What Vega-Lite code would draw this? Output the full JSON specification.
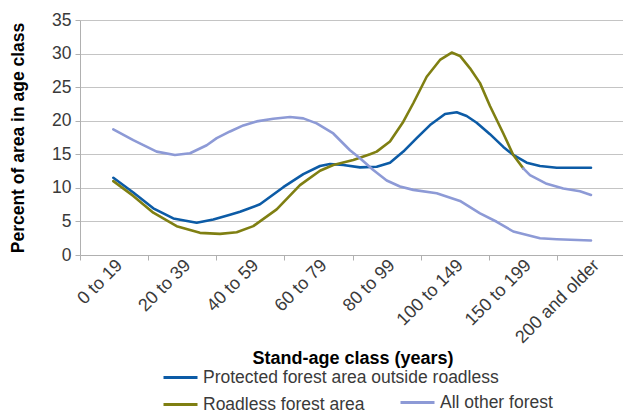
{
  "$schema": "https://vega.github.io/schema/vega-lite/v6.json",
  "autosize": "none",
  "width": 545,
  "height": 235,
  "padding": {"left": 80, "top": 20, "right": 0, "bottom": 158},
  "background": "white",
  "config": {
    "font": "Liberation Sans",
    "view": {"stroke": null},
    "axis": {"labelFont": "Liberation Sans", "titleFont": "Liberation Sans"},
    "legend": {"labelFont": "Liberation Sans"}
  },
  "data": {
    "values": [
      {"line": "P", "key": "Protected forest area outside roadless", "x": 0.489, "y": 11.5},
      {"line": "P", "key": "Protected forest area outside roadless", "x": 0.782, "y": 9.3},
      {"line": "P", "key": "Protected forest area outside roadless", "x": 1.076, "y": 6.95},
      {"line": "P", "key": "Protected forest area outside roadless", "x": 1.370, "y": 5.45},
      {"line": "P", "key": "Protected forest area outside roadless", "x": 1.713, "y": 4.8},
      {"line": "P", "key": "Protected forest area outside roadless", "x": 1.957, "y": 5.3},
      {"line": "P", "key": "Protected forest area outside roadless", "x": 2.202, "y": 6.0},
      {"line": "P", "key": "Protected forest area outside roadless", "x": 2.349, "y": 6.45},
      {"line": "P", "key": "Protected forest area outside roadless", "x": 2.642, "y": 7.55},
      {"line": "P", "key": "Protected forest area outside roadless", "x": 2.984, "y": 10.1},
      {"line": "P", "key": "Protected forest area outside roadless", "x": 3.278, "y": 12.05},
      {"line": "P", "key": "Protected forest area outside roadless", "x": 3.523, "y": 13.25},
      {"line": "P", "key": "Protected forest area outside roadless", "x": 3.670, "y": 13.55},
      {"line": "P", "key": "Protected forest area outside roadless", "x": 3.865, "y": 13.4},
      {"line": "P", "key": "Protected forest area outside roadless", "x": 4.110, "y": 13.05},
      {"line": "P", "key": "Protected forest area outside roadless", "x": 4.355, "y": 13.15},
      {"line": "P", "key": "Protected forest area outside roadless", "x": 4.550, "y": 13.75},
      {"line": "P", "key": "Protected forest area outside roadless", "x": 4.746, "y": 15.4},
      {"line": "P", "key": "Protected forest area outside roadless", "x": 4.942, "y": 17.4},
      {"line": "P", "key": "Protected forest area outside roadless", "x": 5.138, "y": 19.35},
      {"line": "P", "key": "Protected forest area outside roadless", "x": 5.358, "y": 21.0},
      {"line": "P", "key": "Protected forest area outside roadless", "x": 5.530, "y": 21.25},
      {"line": "P", "key": "Protected forest area outside roadless", "x": 5.676, "y": 20.7},
      {"line": "P", "key": "Protected forest area outside roadless", "x": 5.823, "y": 19.7},
      {"line": "P", "key": "Protected forest area outside roadless", "x": 6.018, "y": 18.0},
      {"line": "P", "key": "Protected forest area outside roadless", "x": 6.214, "y": 16.1},
      {"line": "P", "key": "Protected forest area outside roadless", "x": 6.360, "y": 14.9},
      {"line": "P", "key": "Protected forest area outside roadless", "x": 6.557, "y": 13.75},
      {"line": "P", "key": "Protected forest area outside roadless", "x": 6.752, "y": 13.25},
      {"line": "P", "key": "Protected forest area outside roadless", "x": 6.998, "y": 13.0},
      {"line": "P", "key": "Protected forest area outside roadless", "x": 7.501, "y": 13.0},

      {"line": "R", "key": "Roadless forest area", "x": 0.489, "y": 11.0},
      {"line": "R", "key": "Roadless forest area", "x": 0.782, "y": 8.8},
      {"line": "R", "key": "Roadless forest area", "x": 1.076, "y": 6.3},
      {"line": "R", "key": "Roadless forest area", "x": 1.419, "y": 4.3},
      {"line": "R", "key": "Roadless forest area", "x": 1.761, "y": 3.3},
      {"line": "R", "key": "Roadless forest area", "x": 2.055, "y": 3.15},
      {"line": "R", "key": "Roadless forest area", "x": 2.300, "y": 3.4},
      {"line": "R", "key": "Roadless forest area", "x": 2.544, "y": 4.3},
      {"line": "R", "key": "Roadless forest area", "x": 2.887, "y": 6.8},
      {"line": "R", "key": "Roadless forest area", "x": 3.229, "y": 10.4},
      {"line": "R", "key": "Roadless forest area", "x": 3.523, "y": 12.55},
      {"line": "R", "key": "Roadless forest area", "x": 3.718, "y": 13.4},
      {"line": "R", "key": "Roadless forest area", "x": 4.012, "y": 14.15},
      {"line": "R", "key": "Roadless forest area", "x": 4.257, "y": 15.0},
      {"line": "R", "key": "Roadless forest area", "x": 4.355, "y": 15.4},
      {"line": "R", "key": "Roadless forest area", "x": 4.550, "y": 16.9},
      {"line": "R", "key": "Roadless forest area", "x": 4.746, "y": 19.85},
      {"line": "R", "key": "Roadless forest area", "x": 4.892, "y": 22.6},
      {"line": "R", "key": "Roadless forest area", "x": 5.089, "y": 26.55},
      {"line": "R", "key": "Roadless forest area", "x": 5.284, "y": 29.05},
      {"line": "R", "key": "Roadless forest area", "x": 5.456, "y": 30.15},
      {"line": "R", "key": "Roadless forest area", "x": 5.578, "y": 29.65},
      {"line": "R", "key": "Roadless forest area", "x": 5.725, "y": 27.8},
      {"line": "R", "key": "Roadless forest area", "x": 5.872, "y": 25.6},
      {"line": "R", "key": "Roadless forest area", "x": 6.018, "y": 22.2},
      {"line": "R", "key": "Roadless forest area", "x": 6.214, "y": 18.1},
      {"line": "R", "key": "Roadless forest area", "x": 6.360, "y": 14.9},
      {"line": "R", "key": "Roadless forest area", "x": 6.507, "y": 12.9},

      {"line": "RT", "key": "All other forest", "x": 6.507, "y": 12.9},
      {"line": "RT", "key": "All other forest", "x": 6.605, "y": 11.9},
      {"line": "RT", "key": "All other forest", "x": 6.851, "y": 10.6},
      {"line": "RT", "key": "All other forest", "x": 7.094, "y": 9.9},
      {"line": "RT", "key": "All other forest", "x": 7.339, "y": 9.5},
      {"line": "RT", "key": "All other forest", "x": 7.501, "y": 8.95},

      {"line": "O", "key": "All other forest", "x": 0.489, "y": 18.7},
      {"line": "O", "key": "All other forest", "x": 0.782, "y": 17.1},
      {"line": "O", "key": "All other forest", "x": 1.125, "y": 15.4},
      {"line": "O", "key": "All other forest", "x": 1.394, "y": 14.9},
      {"line": "O", "key": "All other forest", "x": 1.615, "y": 15.15},
      {"line": "O", "key": "All other forest", "x": 1.860, "y": 16.35},
      {"line": "O", "key": "All other forest", "x": 2.007, "y": 17.4},
      {"line": "O", "key": "All other forest", "x": 2.202, "y": 18.4},
      {"line": "O", "key": "All other forest", "x": 2.397, "y": 19.3},
      {"line": "O", "key": "All other forest", "x": 2.594, "y": 19.9},
      {"line": "O", "key": "All other forest", "x": 2.837, "y": 20.3},
      {"line": "O", "key": "All other forest", "x": 3.083, "y": 20.55},
      {"line": "O", "key": "All other forest", "x": 3.278, "y": 20.35},
      {"line": "O", "key": "All other forest", "x": 3.474, "y": 19.6},
      {"line": "O", "key": "All other forest", "x": 3.718, "y": 18.1},
      {"line": "O", "key": "All other forest", "x": 3.963, "y": 15.6},
      {"line": "O", "key": "All other forest", "x": 4.110, "y": 14.4},
      {"line": "O", "key": "All other forest", "x": 4.305, "y": 12.65},
      {"line": "O", "key": "All other forest", "x": 4.502, "y": 11.1},
      {"line": "O", "key": "All other forest", "x": 4.697, "y": 10.2},
      {"line": "O", "key": "All other forest", "x": 4.892, "y": 9.7},
      {"line": "O", "key": "All other forest", "x": 5.236, "y": 9.2},
      {"line": "O", "key": "All other forest", "x": 5.578, "y": 8.05},
      {"line": "O", "key": "All other forest", "x": 5.872, "y": 6.2},
      {"line": "O", "key": "All other forest", "x": 6.117, "y": 4.95},
      {"line": "O", "key": "All other forest", "x": 6.360, "y": 3.5},
      {"line": "O", "key": "All other forest", "x": 6.752, "y": 2.5},
      {"line": "O", "key": "All other forest", "x": 6.998, "y": 2.35},
      {"line": "O", "key": "All other forest", "x": 7.501, "y": 2.15}
    ]
  },
  "encoding": {
    "x": {
      "field": "x",
      "type": "quantitative",
      "scale": {"domain": [0, 8], "nice": false, "zero": false},
      "axis": {
        "title": "Stand-age class (years)",
        "titleFontSize": 18,
        "titleFontWeight": "bold",
        "titleColor": "#000000",
        "titlePadding": 3,
        "values": [0, 1, 2, 3, 4, 5, 6, 7, 8],
        "labelExpr": "datum.value < 8 ? ['0 to 19','20 to 39','40 to 59','60 to 79','80 to 99','100 to 149','150 to 199','200 and older'][datum.value] : ''",
        "labelOffset": 33,
        "labelAngle": -45,
        "labelFontSize": 18,
        "labelColor": "#3a3a3a",
        "labelPadding": -4,
        "labelOverlap": false,
        "labelFlush": false,
        "labelBound": false,
        "grid": false,
        "domainColor": "#b0b0b0",
        "tickColor": "#b0b0b0",
        "tickSize": 5
      }
    },
    "y": {
      "field": "y",
      "type": "quantitative",
      "scale": {"domain": [0, 35], "nice": false},
      "axis": {
        "title": "Percent of area in age class",
        "titleFontSize": 17.5,
        "titleFontWeight": "bold",
        "titleColor": "#000000",
        "titlePadding": 24,
        "values": [0, 5, 10, 15, 20, 25, 30, 35],
        "labelFontSize": 17.5,
        "labelColor": "#3a3a3a",
        "labelPadding": 4,
        "grid": true,
        "gridColor": "#c4c4c4",
        "domainColor": "#b0b0b0",
        "tickColor": "#b0b0b0",
        "tickSize": 5
      }
    }
  },
  "layer": [
    {
      "transform": [{"filter": "datum.key != 'All other forest'"}],
      "mark": {"type": "line", "strokeWidth": 2.6, "strokeJoin": "round", "strokeCap": "round"},
      "encoding": {
        "color": {
          "field": "key",
          "type": "nominal",
          "scale": {
            "domain": ["Protected forest area outside roadless", "Roadless forest area"],
            "range": ["#0c5ba6", "#7f7f12"]
          },
          "legend": {
            "title": null,
            "orient": "none",
            "legendX": 82,
            "legendY": 339,
            "direction": "vertical",
            "symbolType": "stroke",
            "symbolSize": 1156,
            "symbolStrokeWidth": 3,
            "labelFontSize": 17.5,
            "labelColor": "#3a3a3a",
            "labelOffset": 4,
            "labelLimit": 500,
            "rowPadding": -9,
            "padding": 0
          }
        }
      }
    },
    {
      "transform": [{"filter": "datum.key == 'All other forest'"}],
      "mark": {"type": "line", "strokeWidth": 2.6, "strokeJoin": "round", "strokeCap": "round"},
      "encoding": {
        "detail": {"field": "line", "type": "nominal"},
        "stroke": {
          "field": "key",
          "type": "nominal",
          "scale": {"domain": ["All other forest"], "range": ["#8d9ad6"]},
          "legend": {
            "title": null,
            "orient": "none",
            "legendX": 319,
            "legendY": 364,
            "symbolType": "stroke",
            "symbolSize": 1156,
            "symbolStrokeWidth": 3,
            "labelFontSize": 17.5,
            "labelColor": "#3a3a3a",
            "labelOffset": 4,
            "labelLimit": 500,
            "padding": 0
          }
        }
      }
    }
  ]
}
